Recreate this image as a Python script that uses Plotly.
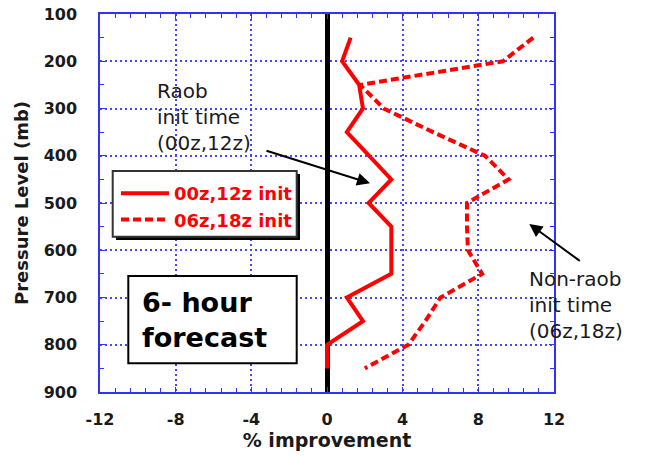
import plotly.graph_objects as go

# ---- data ----
pressure_mb = [150, 200, 250, 300, 350, 400, 450, 500, 550, 600, 650, 700, 750, 800, 850]
raob_init_00z_12z = [1.25, 0.8, 1.7, 1.9, 1.05, 2.25, 3.4, 2.2, 3.4, 3.4, 3.4, 1.05, 1.9, 0.0, 0.0]
nonraob_init_06z_18z = [10.9, 9.3, 1.75, 3.0, 5.6, 8.35, 9.6, 7.4, 7.4, 7.45, 8.2, 6.0, 5.2, 4.3, 2.0]
series_names = ["00z,12z init", "06z,18z init"]
x_ticks = [-12, -8, -4, 0, 4, 8, 12]
y_ticks = [100, 200, 300, 400, 500, 600, 700, 800, 900]

# ---- layout geometry (pixels of the 645x456 page) ----
W, H = 645, 456
L, R, T, B = 100, 554, 14, 392


def px(x):
    return (x - L) / (R - L)


def py(y):
    return (B - y) / (B - T)


BLUE = "rgb(50,50,255)"
FONT = "DejaVu Sans"

fig = go.Figure()
fig.add_trace(go.Scatter(
    x=raob_init_00z_12z, y=pressure_mb, mode="lines", name=series_names[0],
    line=dict(color="#ff0000", width=4)))
fig.add_trace(go.Scatter(
    x=nonraob_init_06z_18z, y=pressure_mb, mode="lines", name=series_names[1],
    line=dict(color="#ff0000", width=4, dash="8px,4px")))

axis_common = dict(
    automargin=False,
    showline=True, linecolor=BLUE, linewidth=1.5, mirror="ticks",
    ticks="inside", ticklen=5, tickcolor=BLUE, tickwidth=1,
    showgrid=True, gridcolor="rgb(70,70,255)", griddash="2px,3px", gridwidth=1.5,
    tickfont=dict(family=FONT, size=16, color="#1a1a1a", weight="bold"),
)

fig.update_xaxes(
    **axis_common,
    range=[-12, 12], tickvals=x_ticks, ticktext=[str(v) for v in x_ticks],
    minor=dict(dtick=0.8, tick0=-12, ticks="inside", ticklen=4, tickcolor=BLUE, showgrid=False),
    zeroline=True, zerolinecolor="black", zerolinewidth=4.5,
    ticklabelstandoff=12,
    title=dict(text="% improvement", standoff=4,
               font=dict(family=FONT, size=19, color="#1a1a1a", weight="bold")),
)
fig.update_yaxes(
    **axis_common,
    range=[900, 100], tickvals=y_ticks, ticktext=[str(v) for v in y_ticks],
    minor=dict(dtick=50, tick0=100, ticks="inside", ticklen=4, tickcolor=BLUE, showgrid=False),
    zeroline=False,
    ticklabelstandoff=18,
    title=dict(text="Pressure Level (mb)", standoff=10,
               font=dict(family=FONT, size=18, color="#1a1a1a", weight="bold")),
)

shapes = [
    # legend shadow and box
    dict(type="rect", xref="paper", yref="paper", layer="above",
         x0=px(116), x1=px(300), y0=py(240), y1=py(174),
         fillcolor="black", line=dict(width=0)),
    dict(type="rect", xref="paper", yref="paper", layer="above",
         x0=px(112.7), x1=px(296.7), y0=py(236.7), y1=py(171),
         fillcolor="white", line=dict(color="#333333", width=2)),
    # forecast box
    dict(type="rect", xref="paper", yref="paper", layer="above",
         x0=px(128.3), x1=px(296.7), y0=py(363.3), y1=py(276),
         fillcolor="white", line=dict(color="black", width=2)),
]

annotations = [
    dict(text="Raob<br>init time<br>(00z,12z)", xref="paper", yref="paper",
         x=px(155), y=py(117), xanchor="left", yanchor="middle", align="left",
         showarrow=False, font=dict(family=FONT, size=20, color="#1a1a1a")),
    dict(text="Non-raob<br>init time<br>(06z,18z)", xref="paper", yref="paper",
         x=px(527), y=py(305), xanchor="left", yanchor="middle", align="left",
         showarrow=False, font=dict(family=FONT, size=20, color="#1a1a1a")),
    dict(text="6- hour<br>forecast", xref="paper", yref="paper",
         x=px(140), y=py(320), xanchor="left", yanchor="middle", align="left",
         showarrow=False, font=dict(family=FONT, size=27, color="black", weight="bold")),
    # arrows
    dict(text="", xref="paper", yref="paper", x=px(370), y=py(183.3),
         ax=-105, ay=-33, showarrow=True, arrowhead=2, arrowsize=1.3,
         arrowwidth=2, arrowcolor="black"),
    dict(text="", xref="paper", yref="paper", x=px(529.3), y=py(224),
         ax=52, ay=38, showarrow=True, arrowhead=2, arrowsize=1.3,
         arrowwidth=2, arrowcolor="black"),
]

fig.update_layout(
    width=W, height=H,
    margin=dict(l=L, r=W - R, t=T, b=H - B, autoexpand=False),
    paper_bgcolor="white", plot_bgcolor="white",
    shapes=shapes, annotations=annotations,
    showlegend=True,
    legend=dict(x=px(116), y=py(175), xanchor="left", yanchor="top",
                bgcolor="rgba(0,0,0,0)", borderwidth=0, tracegroupgap=0,
                font=dict(family=FONT, size=18, color="#ff0000", weight="bold"),
                itemwidth=48),
)

fig.write_html("out.html",
               config={"displayModeBar": False},
               post_script="document.body.style.margin='0';document.body.style.overflow='hidden';")
